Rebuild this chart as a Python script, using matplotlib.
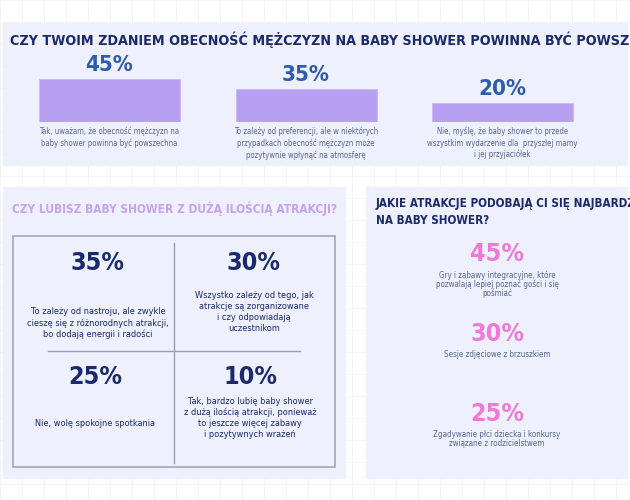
import matplotlib.pyplot as plt
from matplotlib.patches import Rectangle

# top question
q1_title = 'CZY TWOIM ZDANIEM OBECNOŚĆ MĘŻCZYZN NA BABY SHOWER POWINNA BYĆ POWSZECHNA?'
q1_values = [45, 35, 20]
q1_labels = ['Tak, uważam, że obecność mężczyzn na\nbaby shower powinna być powszechna',
             'To zależy od preferencji, ale w niektórych\nprzypadkach obecność mężczyzn może\npozytywnie wpłynąć na atmosferę',
             'Nie, myślę, że baby shower to przede\nwszystkim wydarzenie dla  przyszłej mamy\ni jej przyjaciółek']

# bottom-left question
q2_title = 'CZY LUBISZ BABY SHOWER Z DUŻĄ ILOŚCIĄ ATRAKCJI?'
q2_values = [35, 30, 25, 10]
q2_labels = ['To zależy od nastroju, ale zwykle\ncieszę się z różnorodnych atrakcji,\nbo dodają energii i radości',
             'Wszystko zależy od tego, jak\natrakcje są zorganizowane\ni czy odpowiadają\nuczestnikom',
             'Nie, wolę spokojne spotkania',
             'Tak, bardzo lubię baby shower\nz dużą ilością atrakcji, ponieważ\nto jeszcze więcej zabawy\ni pozytywnych wrażeń']

# bottom-right question
q3_title = 'JAKIE ATRAKCJE PODOBAJĄ CI SIĘ NAJBARDZIEJ\nNA BABY SHOWER?'
q3_values = [45, 30, 25]
q3_labels = ['Gry i zabawy integracyjne, które\npozwalają lepiej poznać gości i się\npośmiać',
             'Sesje zdjęciowe z brzuszkiem',
             'Zgadywanie płci dziecka i konkursy\nzwiązane z rodzicielstwem']

NAVY = '#1b2a6b'
BLUE = '#2d5cac'
GREY = '#5b6790'
PANEL = '#eef0fd'
FONT = dict(family='DejaVu Sans', fontstretch='condensed')

fig = plt.figure(figsize=(6.3, 5.0), dpi=100)
ax = fig.add_axes([0, 0, 1, 1])
ax.set_xlim(0, 630)
ax.set_ylim(500, 0)
ax.axis('off')

# faint background grid
for g in range(0, 630, 22):
    ax.axvline(g, color='#f2f2f6', lw=0.6, zorder=0)
for g in range(0, 500, 22):
    ax.axhline(g, color='#f2f2f6', lw=0.6, zorder=0)

ax.add_patch(Rectangle((3, 23), 624, 142, color=PANEL, zorder=1))
ax.add_patch(Rectangle((3, 187), 342, 291, color=PANEL, zorder=1))
ax.add_patch(Rectangle((366, 187), 261, 291, color=PANEL, zorder=1))

ax.text(10, 40, q1_title, **FONT, weight='bold', fontsize=10.3, color=NAVY,
        va='center', ha='left', zorder=3)

# top bar chart
bx = fig.add_axes([0, 1 - 122 / 500, 1, 43 / 500])
bx.set_xlim(0, 630)
bx.set_ylim(0, 45)
bx.axis('off')
centers = [109.5, 306, 502.5]
bx.bar(centers, q1_values, width=141, color='#b7a0f2', edgecolor='#c8b6f5', lw=0.5)
for c, v, lab in zip(centers, q1_values, q1_labels):
    top = 122 - v * 43 / 45
    ax.text(c, top - 4, f'{v}%', **FONT, weight='bold', fontsize=16, color=BLUE,
            ha='center', va='bottom', zorder=3)
    ax.text(c, 127, lab, **FONT, fontsize=5.6, color=GREY, ha='center', va='top',
            linespacing=1.3, zorder=3)

# bottom-left grid
ax.text(12, 208, q2_title, **FONT, weight='bold', fontsize=8.6, color='#c7a3ee',
        va='center', ha='left', zorder=3)
ax.add_patch(Rectangle((13, 236), 322, 231, fill=False, ec='#a9acbf', lw=1.3, zorder=2))
ax.plot([174, 174], [243, 463], color='#9a9db3', lw=1, zorder=2)
ax.plot([48, 300], [351, 351], color='#9a9db3', lw=1, zorder=2)
cells = [(98, 263, 323), (254, 263, 312), (95, 377, 423), (250, 377, 418)]
for (x, y, ty), v, lab in zip(cells, q2_values, q2_labels):
    ax.text(x, y, f'{v}%', **FONT, weight='bold', fontsize=18, color=NAVY,
            ha='center', va='center', zorder=3)
    ax.text(x, ty, lab, **FONT, fontsize=6.6, color=NAVY, ha='center', va='center',
            linespacing=1.25, zorder=3)

# bottom-right list
ax.text(376, 212, q3_title, **FONT, weight='bold', fontsize=8.4, color=NAVY,
        va='center', ha='left', linespacing=1.3, zorder=3)
for y, v, lab in zip([254, 334, 414], q3_values, q3_labels):
    ax.text(497, y, f'{v}%', **FONT, weight='bold', fontsize=18, color='#ee7ad6',
            ha='center', va='center', zorder=3)
    ax.text(497, y + 16, lab, **FONT, fontsize=5.8, color=GREY, ha='center', va='top',
            linespacing=1.0, zorder=3)

fig.savefig('out.png', dpi=100)
